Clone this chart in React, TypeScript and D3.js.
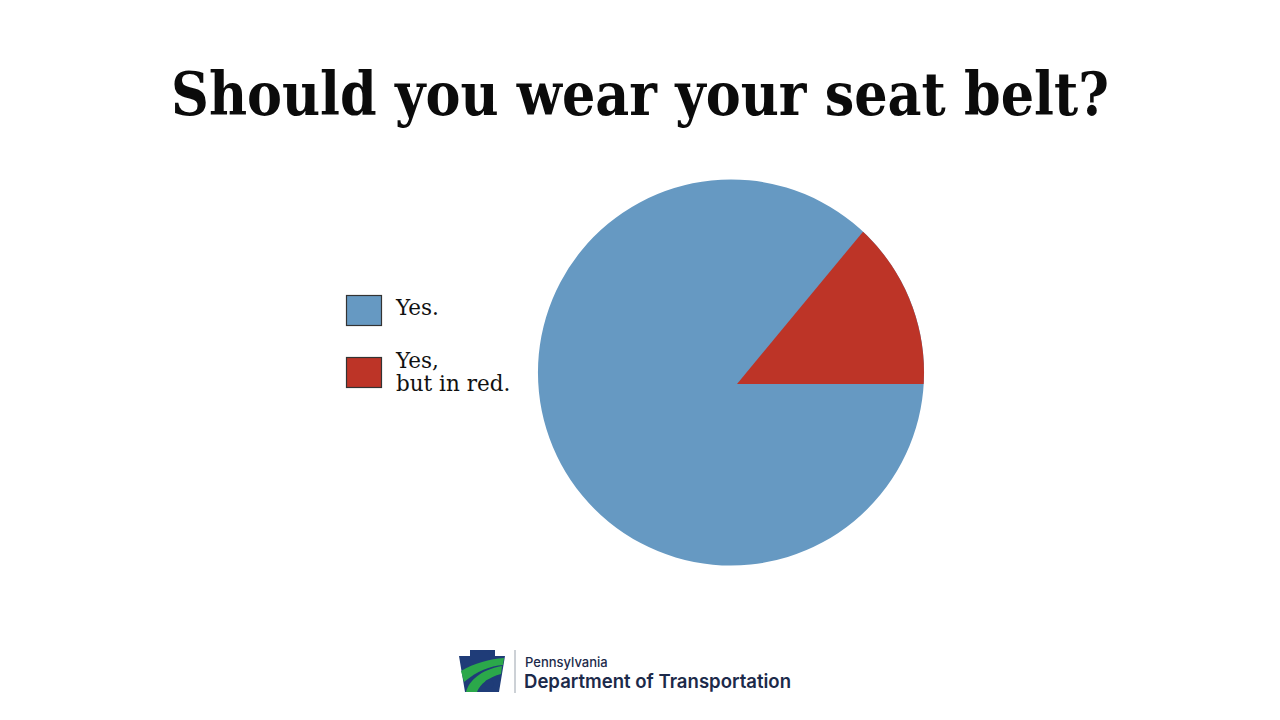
import React from "react";
import * as d3 from "d3";

const title = "Should you wear your seat belt?";
const categories = ["Yes.", "Yes, but in red."];
const legendLines = [["Yes."], ["Yes,", "but in red."]];
const legendColors = ["#6699C2", "#BD3427"];
const values = [86, 14];

const W = 1280;
const H = 720;

export default function App() {
  const cx = 731;
  const cy = 372.5;
  const r = 193;
  // apex of the red wedge, as drawn in the original slide
  const ax = 737;
  const ay = 384;

  const total = d3.sum(values);
  const redAngle = (values[1] / total) * 2 * Math.PI;
  const pie = d3
    .pie<number>()
    .sort(null)
    .startAngle(Math.PI / 2 + redAngle)
    .endAngle(Math.PI / 2 + 2 * Math.PI + redAngle);
  const arcs = pie(values);
  // blue: full circle underneath; red: wedge from apex clipped by circle
  const blueArc = d3.arc<any>().innerRadius(0).outerRadius(r);
  const redArc = d3.arc<any>().innerRadius(0).outerRadius(r + 20);
  const redDatum = { startAngle: Math.PI / 2 - redAngle, endAngle: Math.PI / 2 };

  const ly = d3.scaleOrdinal<string, number>().domain(categories).range([295, 357]);
  const textOffsets = [[20], [11, 34]];

  return (
    <svg width={W} height={H} style={{ position: "absolute", left: 0, top: 0, background: "#fff" }}>
      <defs>
        <clipPath id="pieClip">
          <circle cx={cx} cy={cy} r={r} />
        </clipPath>
      </defs>
      <rect width={W} height={H} fill="#fff" />
      <text
        x={640}
        y={115}
        textAnchor="middle"
        fontFamily="'DejaVu Serif', serif"
        fontWeight="bold"
        fontSize={60}
        textLength={938}
        lengthAdjust="spacingAndGlyphs"
        fill="#0b0b0b"
      >
        {title}
      </text>

      <g transform={`translate(${cx},${cy})`}>
        <path d={blueArc({ startAngle: arcs[0].startAngle, endAngle: arcs[0].startAngle + 2 * Math.PI }) || ""} fill={legendColors[0]} />
      </g>
      <g clipPath="url(#pieClip)">
        <g transform={`translate(${ax},${ay})`}>
          <path d={redArc(redDatum) || ""} fill={legendColors[1]} />
        </g>
      </g>

      {categories.map((c, i) => (
        <g key={c} transform={`translate(346,${ly(c)})`}>
          <rect x={0.5} y={0.5} width={35} height={30} fill={legendColors[i]} stroke="#333" strokeWidth={1.2} />
          {legendLines[i].map((t, j) => (
            <text
              key={j}
              x={50}
              y={textOffsets[i][j]}
              fontFamily="'DejaVu Serif', serif"
              fontSize={21.5}
              fill="#111"
            >
              {t}
            </text>
          ))}
        </g>
      ))}

      {/* PennDOT logo */}
      <g>
        <path d="M459,656 L470,656 L470,650 L495,650 L495,656 L505,656 L499,692 L465,692 Z" fill="#1F3C78" />
        <path d="M461,671 C474,663 490,659 504,658 L503,665 C490,666 477,671 464,682 Z" fill="#2BA84A" />
        <path d="M466,692 C469,681 480,670 502,666 L501,674 C489,677 480,684 477,692 Z" fill="#2BA84A" />
        <circle cx={489} cy={684} r={4.5} fill="#1F3C78" />
        <line x1={515} y1={650} x2={515} y2={693} stroke="#9aa3ad" strokeWidth={1} />
        <text x={525} y={667} fontFamily="Inter, 'Open Sans', sans-serif" fontSize={13} fontWeight={500} fill="#1C2A4A">
          Pennsylvania
        </text>
        <text x={524} y={688} fontFamily="Inter, 'Open Sans', sans-serif" fontSize={19} fontWeight={600} fill="#1C2A4A" textLength={267} lengthAdjust="spacingAndGlyphs">
          Department of Transportation
        </text>
      </g>
    </svg>
  );
}
